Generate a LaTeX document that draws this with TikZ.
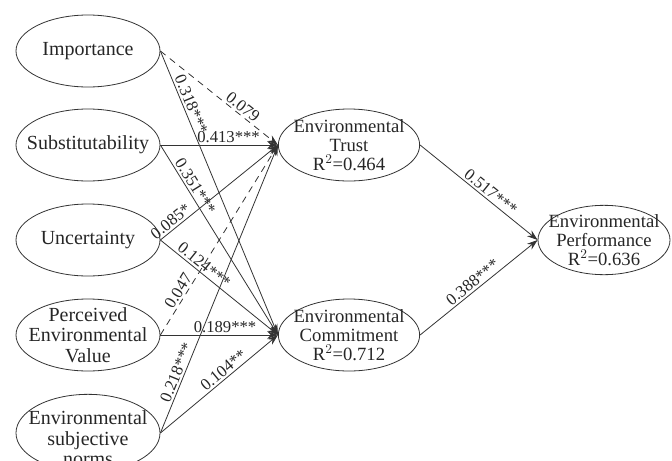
\documentclass[tikz,border=0pt]{standalone}
\usepackage{fontspec}
\setmainfont{Liberation Serif}
\usetikzlibrary{shapes.geometric,arrows.meta}

\begin{document}
\begin{tikzpicture}[x=0.75pt,y=-0.75pt,
	latent/.style={draw=black!80,ellipse,minimum width=108pt,minimum height=54pt,inner sep=0pt,line width=0.6pt},
	intext/.style={font=\fontsize{15}{15.5}\selectfont,align=center,text=black!85},
	outtext/.style={font=\fontsize{14}{14.5}\selectfont,align=center,text=black!85},
	eff/.style={draw=black!80,line width=0.6pt,-{Stealth[length=8pt,width=5.5pt]}},
	ns/.style={dash pattern=on 5pt off 4pt},
	coef/.style={font=\fontsize{12.5}{13}\selectfont,sloped,above,inner sep=1.5pt,text=black!85}]
		\clip (0,0) rectangle (672,461);
		\useasboundingbox (0,0) rectangle (672,461);
		\node[latent,label={[intext]center:Importance}] (imp) at (88,51) {};
		\node[latent,label={[intext]center:Substitutability}] (sub) at (88,145) {};
		\node[latent,label={[intext]center:Uncertainty}] (unc) at (88,240) {};
		\node[latent,label={[intext]center:{Perceived\\Environmental\\Value}}] (pev) at (88,335) {};
		\node[latent,minimum height=58pt,label={[intext,yshift=-4pt]center:{Environmental\\subjective\\norms}}] (esn) at (88,433) {};
		\node[latent,minimum width=106pt,label={[outtext]center:{Environmental\\Trust\\R$^2$=0.464}}] (trust) at (349,145) {};
		\node[latent,minimum width=106pt,label={[outtext]center:{Environmental\\Commitment\\R$^2$=0.712}}] (commit) at (349,335) {};
		\node[latent,minimum width=99pt,minimum height=52pt,label={[outtext]center:{Environmental\\Performance\\R$^2$=0.636}}] (perf) at (604,240) {};
		\draw[eff,ns] (imp.east) -- node[coef,pos=0.66] {0.079} (trust.west);
		\draw[eff] (imp.east) -- node[coef,pos=0.2] {0.318***} (commit.west);
		\draw[eff] (sub.east) -- node[coef,pos=0.58] {0.413***} (trust.west);
		\draw[eff] (sub.east) -- node[coef,pos=0.24] {0.351***} (commit.west);
		\draw[eff] (unc.east) -- node[coef,pos=0.13] {0.085*} (trust.west);
		\draw[eff] (unc.east) -- node[coef,pos=0.33] {0.124***} (commit.west);
		\draw[eff,ns] (pev.east) -- node[coef,pos=0.21] {0.047} (trust.west);
		\draw[eff] (pev.east) -- node[coef,pos=0.55] {0.189***} (commit.west);
		\draw[eff] (esn.east) -- node[coef,pos=0.2] {0.218***} (trust.west);
		\draw[eff] (esn.east) -- node[coef,pos=0.58] {0.104**} (commit.west);
		\draw[eff] (trust.east) -- node[coef,pos=0.56] {0.517***} (perf.west);
		\draw[eff] (commit.east) -- node[coef,pos=0.49] {0.388***} (perf.west);
	\end{tikzpicture}
\end{document}
